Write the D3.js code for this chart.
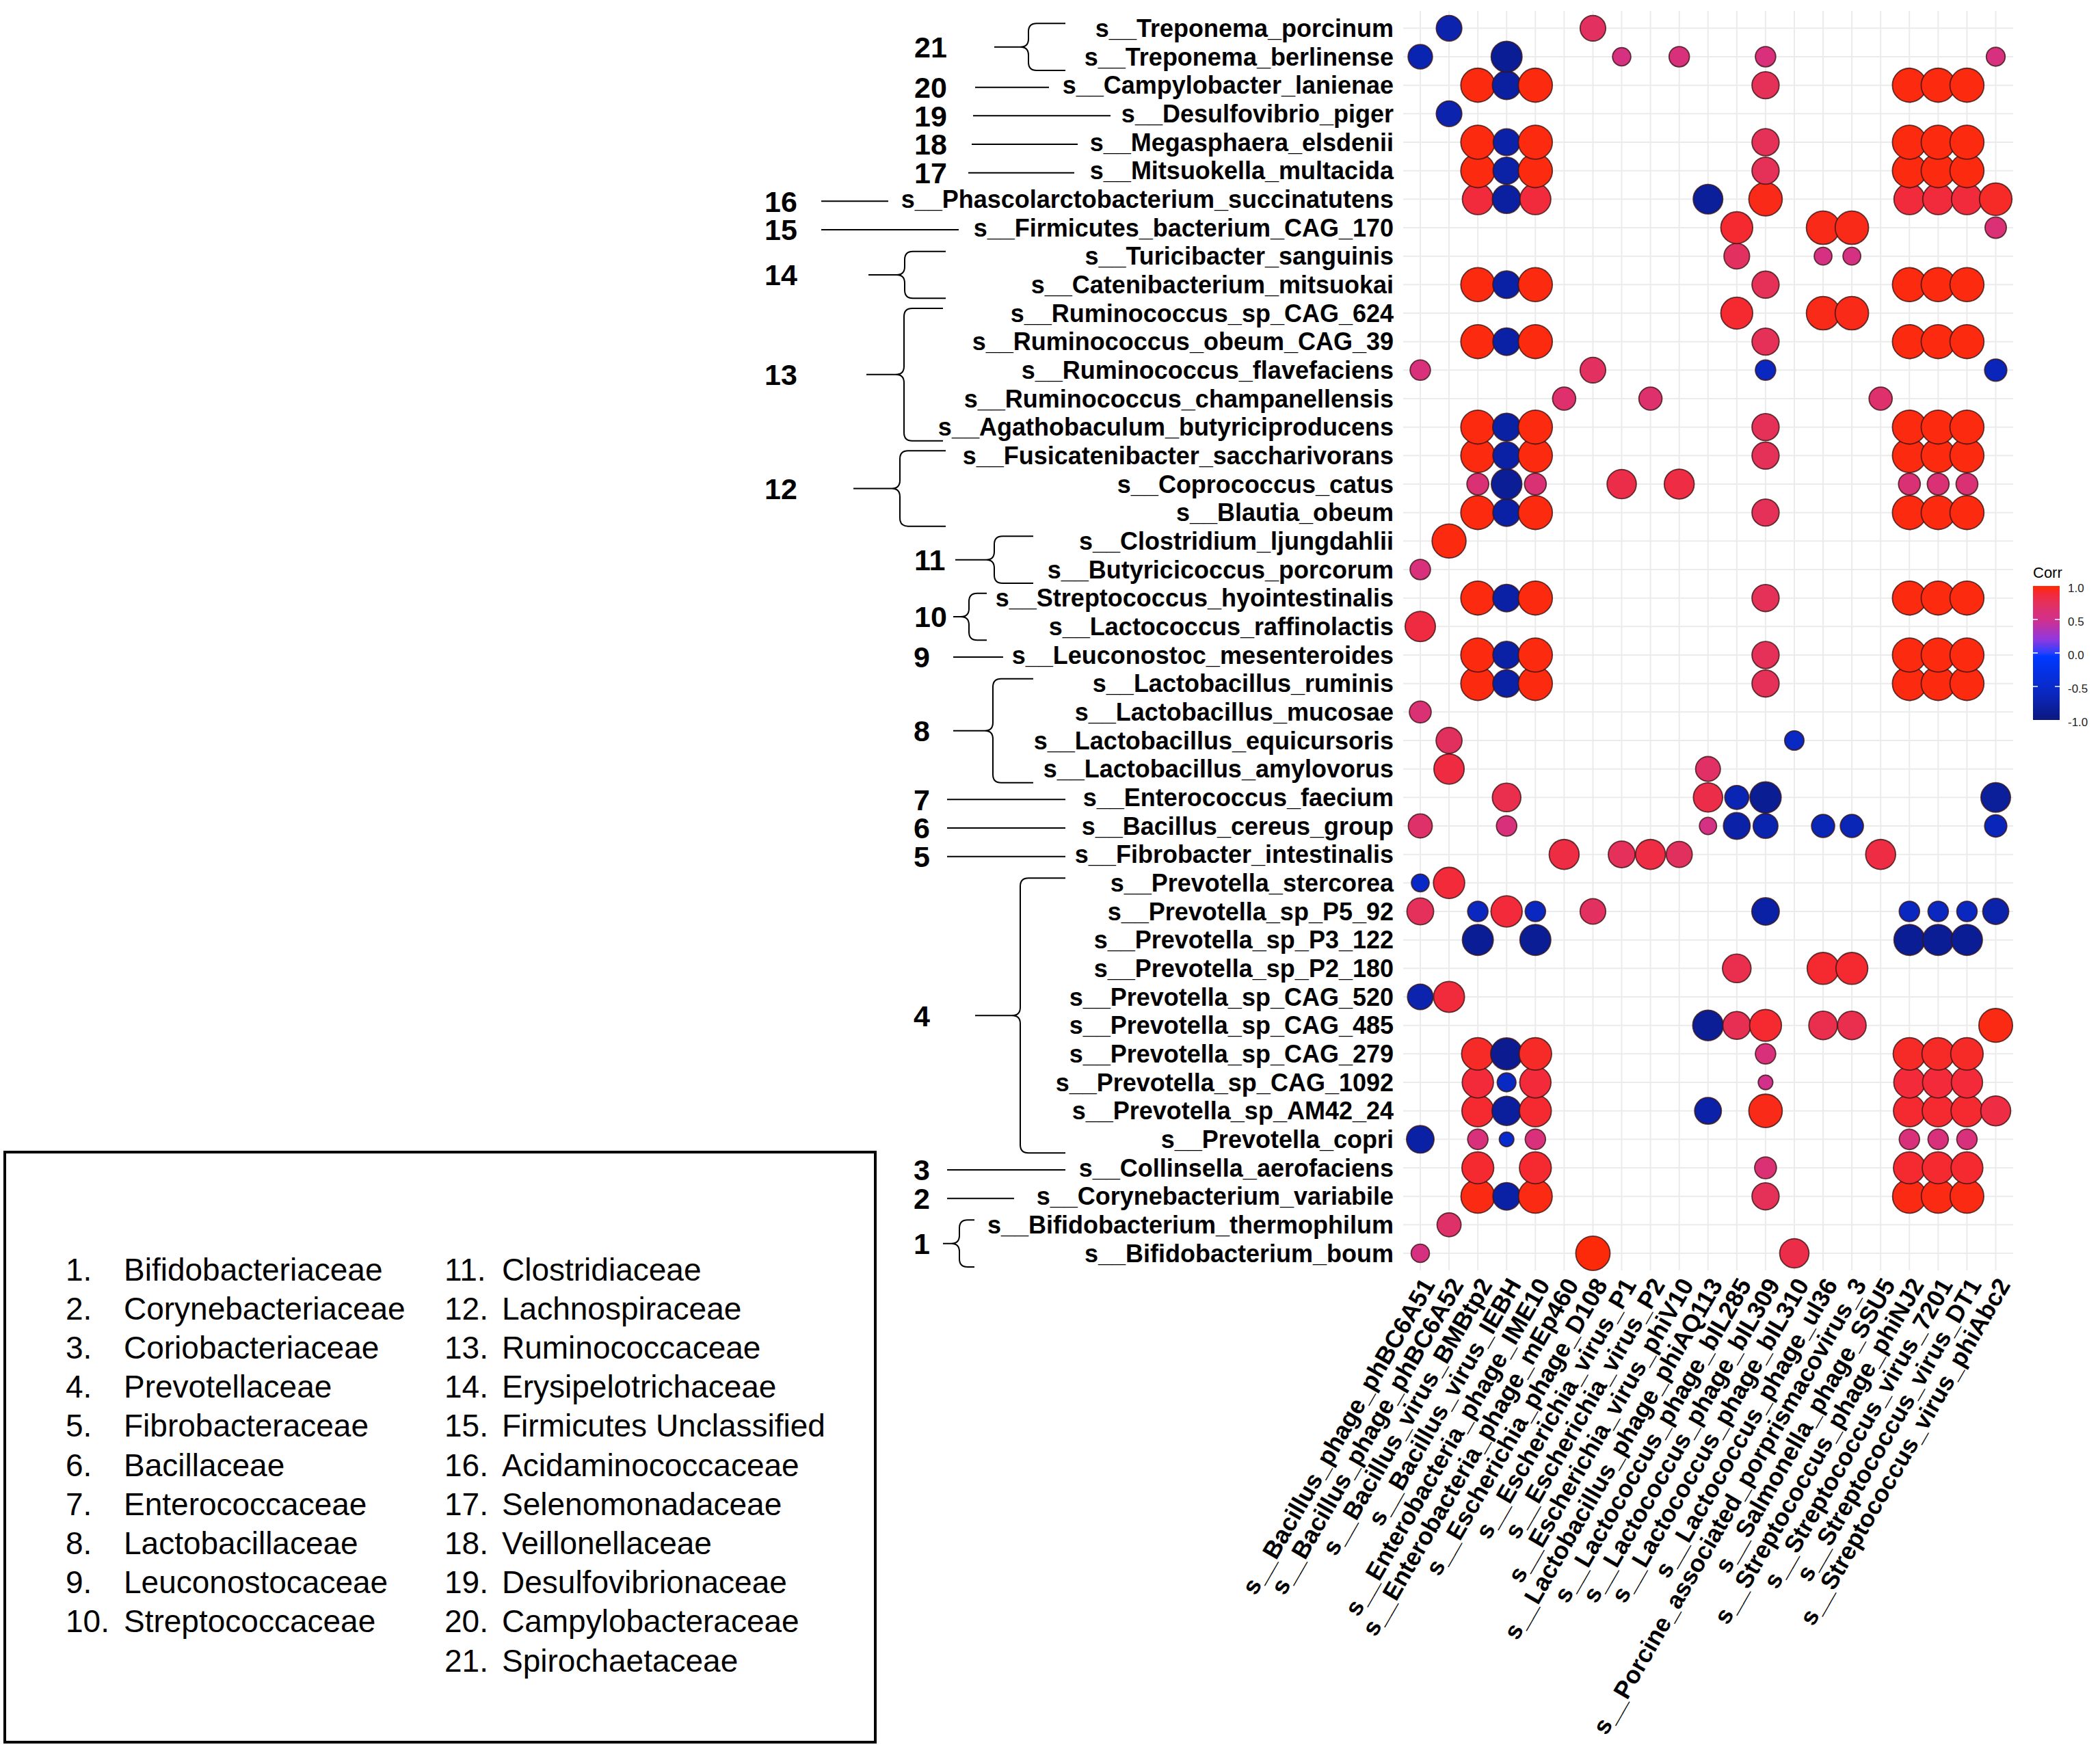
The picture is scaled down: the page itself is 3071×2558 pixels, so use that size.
<!DOCTYPE html>
<html><head><meta charset="utf-8">
<script src="https://cdn.jsdelivr.net/npm/d3@7"></script>
<style>body{margin:0;background:#fff}</style>
</head><body>
<svg id="chart" width="3071" height="2558"></svg>
<script>
// ---------------- DATA ----------------
const species = [
 "s__Treponema_porcinum","s__Treponema_berlinense","s__Campylobacter_lanienae","s__Desulfovibrio_piger",
 "s__Megasphaera_elsdenii","s__Mitsuokella_multacida","s__Phascolarctobacterium_succinatutens",
 "s__Firmicutes_bacterium_CAG_170","s__Turicibacter_sanguinis","s__Catenibacterium_mitsuokai",
 "s__Ruminococcus_sp_CAG_624","s__Ruminococcus_obeum_CAG_39","s__Ruminococcus_flavefaciens",
 "s__Ruminococcus_champanellensis","s__Agathobaculum_butyriciproducens","s__Fusicatenibacter_saccharivorans",
 "s__Coprococcus_catus","s__Blautia_obeum","s__Clostridium_ljungdahlii","s__Butyricicoccus_porcorum",
 "s__Streptococcus_hyointestinalis","s__Lactococcus_raffinolactis","s__Leuconostoc_mesenteroides",
 "s__Lactobacillus_ruminis","s__Lactobacillus_mucosae","s__Lactobacillus_equicursoris",
 "s__Lactobacillus_amylovorus","s__Enterococcus_faecium","s__Bacillus_cereus_group",
 "s__Fibrobacter_intestinalis","s__Prevotella_stercorea","s__Prevotella_sp_P5_92","s__Prevotella_sp_P3_122",
 "s__Prevotella_sp_P2_180","s__Prevotella_sp_CAG_520","s__Prevotella_sp_CAG_485","s__Prevotella_sp_CAG_279",
 "s__Prevotella_sp_CAG_1092","s__Prevotella_sp_AM42_24","s__Prevotella_copri","s__Collinsella_aerofaciens",
 "s__Corynebacterium_variabile","s__Bifidobacterium_thermophilum","s__Bifidobacterium_boum"
];
const phages = [
 "s__Bacillus_phage_phBC6A51","s__Bacillus_phage_phBC6A52","s__Bacillus_virus_BMBtp2","s__Bacillus_virus_IEBH",
 "s__Enterobacteria_phage_IME10","s__Enterobacteria_phage_mEp460","s__Escherichia_phage_D108",
 "s__Escherichia_virus_P1","s__Escherichia_virus_P2","s__Escherichia_virus_phiV10",
 "s__Lactobacillus_phage_phiAQ113","s__Lactococcus_phage_bIL285","s__Lactococcus_phage_bIL309",
 "s__Lactococcus_phage_bIL310","s__Lactococcus_phage_ul36","s__Porcine_associated_porprismacovirus_3",
 "s__Salmonella_phage_SSU5","s__Streptococcus_phage_phiNJ2","s__Streptococcus_virus_7201",
 "s__Streptococcus_virus_DT1","s__Streptococcus_virus_phiAbc2"
];
// one entry per species (same order): [phage index, correlation]
const corrRows = [
 [[1,-0.72],[6,0.72]],
 [[0,-0.69],[3,-0.87],[7,0.56],[9,0.6],[12,0.6],[20,0.57]],
 [[2,0.97],[3,-0.8],[4,0.97],[12,0.76],[17,0.97],[18,0.97],[19,0.97]],
 [[1,-0.72]],
 [[2,0.97],[3,-0.75],[4,0.97],[12,0.76],[17,0.97],[18,0.97],[19,0.97]],
 [[2,0.97],[3,-0.76],[4,0.97],[12,0.76],[17,0.97],[18,0.97],[19,0.97]],
 [[2,0.87],[3,-0.8],[4,0.87],[10,-0.83],[12,0.95],[17,0.87],[18,0.87],[19,0.87],[20,0.92]],
 [[11,0.9],[14,0.95],[15,0.95],[20,0.62]],
 [[11,0.72],[14,0.55],[15,0.55]],
 [[2,0.97],[3,-0.77],[4,0.97],[12,0.76],[17,0.97],[18,0.97],[19,0.97]],
 [[11,0.9],[14,0.95],[15,0.95]],
 [[2,0.97],[3,-0.77],[4,0.97],[12,0.76],[17,0.97],[18,0.97],[19,0.97]],
 [[0,0.6],[6,0.72],[12,-0.6],[20,-0.64]],
 [[5,0.66],[8,0.66],[16,0.66]],
 [[2,0.97],[3,-0.78],[4,0.97],[12,0.76],[17,0.97],[18,0.97],[19,0.97]],
 [[2,0.97],[3,-0.77],[4,0.97],[12,0.76],[17,0.97],[18,0.97],[19,0.97]],
 [[2,0.63],[3,-0.86],[4,0.63],[7,0.82],[9,0.84],[17,0.63],[18,0.63],[19,0.63]],
 [[2,0.97],[3,-0.77],[4,0.97],[12,0.76],[17,0.97],[18,0.97],[19,0.97]],
 [[1,0.97]],
 [[0,0.6]],
 [[2,0.97],[3,-0.77],[4,0.97],[12,0.76],[17,0.97],[18,0.97],[19,0.97]],
 [[0,0.85]],
 [[2,0.97],[3,-0.77],[4,0.97],[12,0.76],[17,0.97],[18,0.97],[19,0.97]],
 [[2,0.97],[3,-0.77],[4,0.97],[12,0.76],[17,0.97],[18,0.97],[19,0.97]],
 [[0,0.63]],
 [[1,0.73],[13,-0.58]],
 [[1,0.85],[10,0.7]],
 [[3,0.8],[10,0.82],[11,-0.68],[12,-0.88],[20,-0.83]],
 [[0,0.68],[3,0.6],[10,0.54],[11,-0.75],[12,-0.7],[14,-0.66],[15,-0.66],[20,-0.64]],
 [[5,0.84],[7,0.75],[8,0.84],[9,0.73],[16,0.84]],
 [[0,-0.55],[1,0.88]],
 [[0,0.75],[2,-0.6],[3,0.88],[4,-0.6],[6,0.72],[12,-0.77],[17,-0.6],[18,-0.6],[19,-0.6],[20,-0.73]],
 [[2,-0.87],[4,-0.87],[17,-0.87],[18,-0.87],[19,-0.87]],
 [[11,0.8],[14,0.9],[15,0.9]],
 [[0,-0.72],[1,0.87]],
 [[10,-0.86],[11,0.78],[12,0.9],[14,0.8],[15,0.8],[20,0.96]],
 [[2,0.92],[3,-0.9],[4,0.92],[12,0.6],[17,0.92],[18,0.92],[19,0.92]],
 [[2,0.88],[3,-0.57],[4,0.88],[12,0.5],[17,0.88],[18,0.88],[19,0.88]],
 [[2,0.9],[3,-0.82],[4,0.9],[10,-0.75],[12,0.95],[17,0.9],[18,0.9],[19,0.9],[20,0.84]],
 [[0,-0.77],[2,0.6],[3,-0.5],[4,0.6],[17,0.6],[18,0.6],[19,0.6]],
 [[2,0.9],[4,0.9],[12,0.63],[17,0.9],[18,0.9],[19,0.9]],
 [[2,0.96],[3,-0.77],[4,0.96],[12,0.76],[17,0.96],[18,0.96],[19,0.96]],
 [[1,0.68]],
 [[0,0.56],[6,0.98],[13,0.82]]
];
const families = [
 "Bifidobacteriaceae","Corynebacteriaceae","Coriobacteriaceae","Prevotellaceae","Fibrobacteraceae",
 "Bacillaceae","Enterococcaceae","Lactobacillaceae","Leuconostocaceae","Streptococcaceae",
 "Clostridiaceae","Lachnospiraceae","Ruminococcaceae","Erysipelotrichaceae","Firmicutes Unclassified",
 "Acidaminococcaceae","Selenomonadaceae","Veillonellaceae","Desulfovibrionaceae","Campylobacteraceae",
 "Spirochaetaceae"
];
// family number -> first and last species of its block
const familyBlocks = [
 [21,"s__Treponema_porcinum","s__Treponema_berlinense"],
 [20,"s__Campylobacter_lanienae","s__Campylobacter_lanienae"],
 [19,"s__Desulfovibrio_piger","s__Desulfovibrio_piger"],
 [18,"s__Megasphaera_elsdenii","s__Megasphaera_elsdenii"],
 [17,"s__Mitsuokella_multacida","s__Mitsuokella_multacida"],
 [16,"s__Phascolarctobacterium_succinatutens","s__Phascolarctobacterium_succinatutens"],
 [15,"s__Firmicutes_bacterium_CAG_170","s__Firmicutes_bacterium_CAG_170"],
 [14,"s__Turicibacter_sanguinis","s__Catenibacterium_mitsuokai"],
 [13,"s__Ruminococcus_sp_CAG_624","s__Agathobaculum_butyriciproducens"],
 [12,"s__Fusicatenibacter_saccharivorans","s__Blautia_obeum"],
 [11,"s__Clostridium_ljungdahlii","s__Butyricicoccus_porcorum"],
 [10,"s__Streptococcus_hyointestinalis","s__Lactococcus_raffinolactis"],
 [9,"s__Leuconostoc_mesenteroides","s__Leuconostoc_mesenteroides"],
 [8,"s__Lactobacillus_ruminis","s__Lactobacillus_amylovorus"],
 [7,"s__Enterococcus_faecium","s__Enterococcus_faecium"],
 [6,"s__Bacillus_cereus_group","s__Bacillus_cereus_group"],
 [5,"s__Fibrobacter_intestinalis","s__Fibrobacter_intestinalis"],
 [4,"s__Prevotella_stercorea","s__Prevotella_copri"],
 [3,"s__Collinsella_aerofaciens","s__Collinsella_aerofaciens"],
 [2,"s__Corynebacterium_variabile","s__Corynebacterium_variabile"],
 [1,"s__Bifidobacterium_thermophilum","s__Bifidobacterium_boum"]
];
const corrTicks = [1.0, 0.5, 0.0, -0.5, -1.0];

// ---------------- LAYOUT (annotation geometry, px) ----------------
// number x, stem start x, vertical/end x, brace tip x
const blockLayout = {
 21:[1337,1454,1504,1558], 20:[1337,1426,1534], 19:[1337,1423,1624], 18:[1337,1421,1576],
 17:[1337,1416,1571], 16:[1118,1201,1299], 15:[1118,1201,1402], 14:[1118,1270,1323,1383],
 13:[1118,1267,1322,1379], 12:[1118,1248,1316,1383], 11:[1337,1397,1454,1511],
 10:[1337,1394,1417,1443], 9:[1336,1394,1467], 8:[1336,1394,1452,1511], 7:[1336,1385,1558],
 6:[1336,1385,1558], 5:[1336,1385,1558], 4:[1336,1426,1492,1558], 3:[1336,1385,1558],
 2:[1336,1385,1483], 1:[1336,1379,1403,1425]
};
const colorStops = [-1, -0.6, -0.05, 0, 0.2, 0.5, 0.6, 0.75, 0.88, 1];
const colorValues = ["#0c1880","#0a28c0","#0038ff","#2a40ff","#9038e0","#d2308a","#d8307a","#e4305a","#f22a3a","#ff2a00"];

const FONT = "'Liberation Sans', Arial, Helvetica, sans-serif";
const svg = d3.select("#chart");
svg.append("rect").attr("width",3071).attr("height",2558).attr("fill","#fff");

const panel = {left:2052, right:2944, top:16, bottom:1858};
const x = d3.scalePoint().domain(phages).range([2077, 2918.5]);
const y = d3.scalePoint().domain(species).range([41.3, 1833]);
const color = d3.scaleLinear().domain(colorStops).range(colorValues).clamp(true);
const radius = d3.scaleRadial().domain([0.5,1]).range([10.7,25.5]).clamp(true);

// grid
const grid = svg.append("g").attr("stroke","#ebebeb").attr("stroke-width",2);
grid.selectAll(".h").data(species).join("line")
  .attr("x1",panel.left).attr("x2",panel.right).attr("y1",d=>y(d)).attr("y2",d=>y(d));
grid.selectAll(".v").data(phages).join("line")
  .attr("y1",panel.top).attr("y2",panel.bottom).attr("x1",d=>x(d)).attr("x2",d=>x(d));

// points (bottom rows first)
const pts = [];
for (let i = species.length-1; i >= 0; i--) {
  corrRows[i].forEach(([j,v]) => pts.push({s:species[i], p:phages[j], v}));
}
svg.append("g").selectAll("circle").data(pts).join("circle")
  .attr("cx",d=>x(d.p)).attr("cy",d=>y(d.s)).attr("r",d=>radius(Math.abs(d.v)))
  .attr("fill",d=>color(d.v)).attr("stroke","#3a1414").attr("stroke-opacity",0.8).attr("stroke-width",1.8);

// y axis labels
svg.append("g").selectAll("text").data(species).join("text")
  .attr("x",2038).attr("y",d=>y(d)).attr("dy","0.35em").attr("text-anchor","end")
  .attr("font-family",FONT).attr("font-weight","bold").attr("font-size",36).attr("fill","#000")
  .text(d=>d);

// x axis labels
svg.append("g").selectAll("text").data(phages).join("text")
  .attr("transform",d=>`translate(${x(d)},${panel.bottom+8}) rotate(-60)`)
  .attr("dy","0.72em").attr("text-anchor","end")
  .attr("font-family",FONT).attr("font-weight","bold").attr("font-size",36).attr("fill","#000")
  .text(d=>d);

// family annotations
const ann = svg.append("g");
familyBlocks.forEach(([n, first, last]) => {
  const L = blockLayout[n];
  let ym;
  if (first === last) {
    ym = y(first) + 3;
    ann.append("line").attr("x1",L[1]).attr("x2",L[2]).attr("y1",ym).attr("y2",ym)
      .attr("stroke","#000").attr("stroke-width",2);
  } else {
    const y0 = y(first) - 7, y1 = y(last) + 20;
    ym = (y0 + y1) / 2;
    const xs = L[1], xv = L[2], xt = L[3];
    const r = Math.min(12, (y1 - y0) / 4);
    const path = `M${xt},${y0} L${xv+r},${y0} Q${xv},${y0} ${xv},${y0+r} L${xv},${ym-r} Q${xv},${ym} ${xv-r},${ym}`+
      ` L${xs},${ym} M${xv-r},${ym} Q${xv},${ym} ${xv},${ym+r} L${xv},${y1-r} Q${xv},${y1} ${xv+r},${y1} L${xt},${y1}`;
    ann.append("path").attr("d",path).attr("fill","none").attr("stroke","#000").attr("stroke-width",2);
  }
  ann.append("text").attr("x",L[0]).attr("y",ym).attr("dy","0.36em")
    .attr("font-family",FONT).attr("font-weight","bold").attr("font-size",43).attr("fill","#000")
    .text(n);
});

// colour bar
const cb = {x:2973, w:39, top:857, bottom:1053};
const cbY = d3.scaleLinear().domain([1,-1]).range([cb.top, cb.bottom]);
const defs = svg.append("defs");
const grad = defs.append("linearGradient").attr("id","cbgrad").attr("x1",0).attr("y1",0).attr("x2",0).attr("y2",1);
d3.range(0,1.0001,0.01).forEach(t => {
  grad.append("stop").attr("offset",t).attr("stop-color",color(1 - 2*t));
});
svg.append("text").attr("x",cb.x).attr("y",cb.top-12).attr("font-family",FONT).attr("font-size",22)
  .attr("fill","#000").text("Corr");
svg.append("rect").attr("x",cb.x).attr("y",cb.top).attr("width",cb.w).attr("height",cb.bottom-cb.top)
  .attr("fill","url(#cbgrad)");
const cbt = svg.append("g");
corrTicks.forEach(t => {
  if (Math.abs(t) < 1) {
    cbt.append("line").attr("x1",cb.x).attr("x2",cb.x+7).attr("y1",cbY(t)).attr("y2",cbY(t)).attr("stroke","#fff").attr("stroke-width",1.5);
    cbt.append("line").attr("x1",cb.x+cb.w-7).attr("x2",cb.x+cb.w).attr("y1",cbY(t)).attr("y2",cbY(t)).attr("stroke","#fff").attr("stroke-width",1.5);
  }
  cbt.append("text").attr("x",cb.x+51).attr("y",cbY(t)+3).attr("dy","0.35em")
    .attr("font-family",FONT).attr("font-size",17).attr("fill","#222").text(t.toFixed(1));
});

// family legend box
svg.append("rect").attr("x",7).attr("y",1685).attr("width",1273).attr("height",863)
  .attr("fill","none").attr("stroke","#000").attr("stroke-width",4);
const lg = svg.append("g").attr("font-family",FONT).attr("font-size",46).attr("fill","#000");
families.forEach((f,i) => {
  const col = i < 10 ? 0 : 1;
  const row = i < 10 ? i : i - 10;
  const yy = 1856.5 + row * 57.2;
  lg.append("text").attr("x",col ? 650 : 96).attr("y",yy).attr("dy","0.35em").text((i+1)+".");
  lg.append("text").attr("x",col ? 734 : 181).attr("y",yy).attr("dy","0.35em").text(f);
});
</script>
</body></html>
